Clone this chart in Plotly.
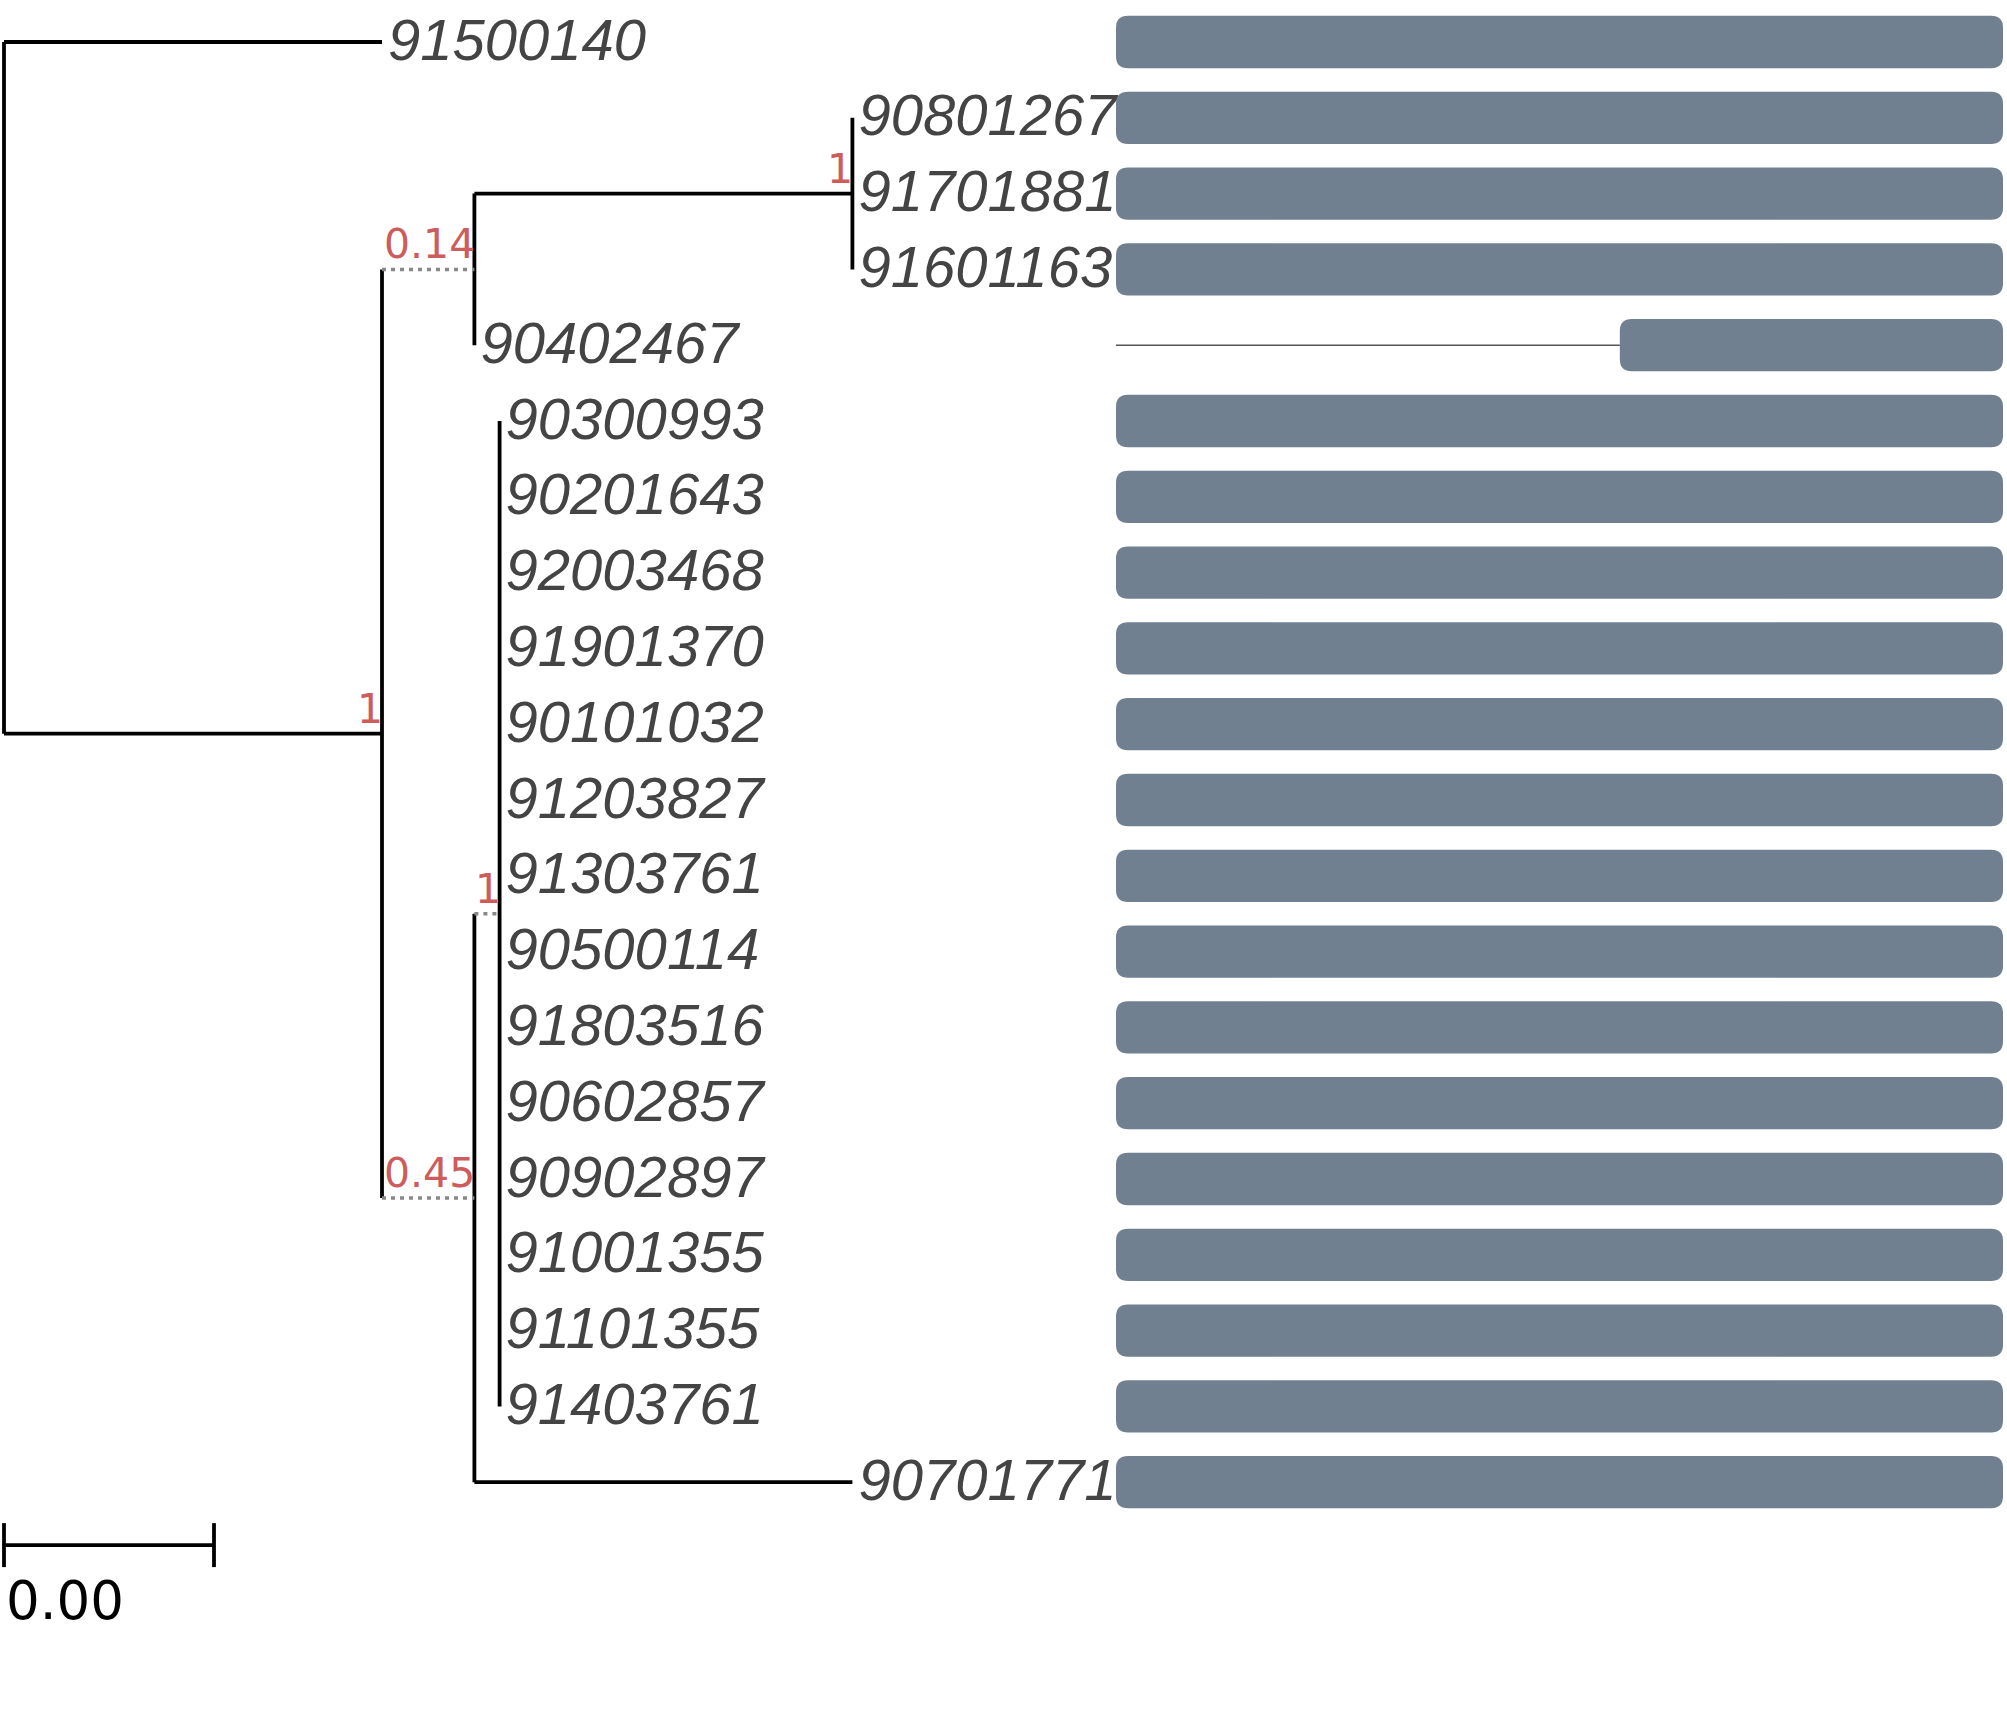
import plotly.graph_objects as go

# leaves, top to bottom
leaf_names = ["91500140", "90801267", "91701881", "91601163", "90402467",
              "90300993", "90201643", "92003468", "91901370", "90101032",
              "91203827", "91303761", "90500114", "91803516", "90602857",
              "90902897", "91001355", "91101355", "91403761", "90701771"]
leaf_parent = ["root", "C", "C", "C", "B"] + ["E"] * 14 + ["D"]
leaf_branch = [0.0018, 0, 0, 0, 0] + [0] * 14 + [0.0018]

# internal nodes
node_names = ["root", "A", "B", "C", "D", "E"]
node_parent = [None, "root", "A", "B", "A", "D"]
node_branch = [0, 0.0018, 0.00044, 0.0018, 0.00044, 0.00012]
node_support = [None, "1", "0.14", "1", "0.45", "1"]
node_dotted = [False, False, True, False, True, True]

# alignment coverage per leaf
aln_length = 1500
aln_start = [0, 0, 0, 0, 852] + [0] * 14 + [0]
aln_end = [1500] * 20

scale_bar_len = 0.001

# ---- tree layout ----
children = {n: [] for n in node_names}
for i, p in enumerate(leaf_parent):
    children[p].append(("leaf", i))
for n, p in zip(node_names, node_parent):
    if p is not None:
        children[p].append(("node", n))

node_x = {}
node_y = {}
leaf_x = [0.0] * len(leaf_names)


def place(name, x):
    node_x[name] = x
    ys = []
    for kind, c in children[name]:
        if kind == "leaf":
            leaf_x[c] = x + leaf_branch[c]
            ys.append(c)
        else:
            bl = node_branch[node_names.index(c)]
            ys.append(place(c, x + bl))
    node_y[name] = (min(ys) + max(ys)) / 2
    return node_y[name]


place("root", 0.0)

solid_x, solid_y, dot_x, dot_y = [], [], [], []
for name in node_names:
    ys = []
    for kind, c in children[name]:
        if kind == "leaf":
            cx, cy, dotted = leaf_x[c], c, False
        else:
            cx, cy = node_x[c], node_y[c]
            dotted = node_dotted[node_names.index(c)]
        ys.append(cy)
        if cx > node_x[name]:
            if dotted:
                dot_x += [node_x[name], cx, None]
                dot_y += [cy, cy, None]
            else:
                solid_x += [node_x[name], cx, None]
                solid_y += [cy, cy, None]
    solid_x += [node_x[name], node_x[name], None]
    solid_y += [min(ys), max(ys), None]

# scale bar
sb_y = len(leaf_names) - 1 + 0.83
solid_x += [0, scale_bar_len, None, 0, 0, None, scale_bar_len, scale_bar_len, None]
solid_y += [sb_y, sb_y, None, sb_y - 0.29, sb_y + 0.29, None, sb_y - 0.29, sb_y + 0.29, None]

W, H = 2007, 1734
px_per_unit = 210 / scale_bar_len
x0_px = 4
row_px = 75.8
row0_px = 42
bar_l, bar_r = 1116, 2003

fig = go.Figure()
fig.add_trace(go.Scatter(x=solid_x, y=solid_y, mode="lines",
                         line=dict(color="black", width=3.8), hoverinfo="skip"))
fig.add_trace(go.Scatter(x=dot_x, y=dot_y, mode="lines",
                         line=dict(color="#888888", width=3.5, dash="4px,5px"),
                         hoverinfo="skip"))
fig.add_trace(go.Scatter(x=[x + 6 / px_per_unit for x in leaf_x],
                         y=[i + 0.04 for i in range(len(leaf_names))],
                         mode="text", text=leaf_names, textposition="middle right",
                         textfont=dict(family="Liberation Sans", size=58,
                                       color="#444444", style="italic"),
                         hoverinfo="skip"))

# thin gap lines and rounded bars
bar_h = 0.69
rx = 12 * aln_length / (bar_r - bar_l)
ry = 12 / row_px
gap_x, gap_y = [], []
for i in range(len(leaf_names)):
    s, e = aln_start[i], aln_end[i]
    if s > 0:
        gap_x += [0, s, None]
        gap_y += [i, i, None]
    y0, y1 = i - bar_h / 2, i + bar_h / 2
    path = (f"M{s + rx},{y0} L{e - rx},{y0} Q{e},{y0} {e},{y0 + ry} "
            f"L{e},{y1 - ry} Q{e},{y1} {e - rx},{y1} L{s + rx},{y1} "
            f"Q{s},{y1} {s},{y1 - ry} L{s},{y0 + ry} Q{s},{y0} {s + rx},{y0} Z")
    fig.add_shape(type="path", path=path, xref="x2", yref="y",
                  fillcolor="#708090", line=dict(width=0))
fig.add_trace(go.Scatter(x=gap_x, y=gap_y, xaxis="x2", mode="lines",
                         line=dict(color="#555555", width=1.5), hoverinfo="skip"))

for name, sup in zip(node_names, node_support):
    if sup is None:
        continue
    fig.add_annotation(x=node_x[name], y=node_y[name], text=sup, showarrow=False,
                       xanchor="right", yanchor="bottom", yshift=-1, xshift=3,
                       font=dict(family="DejaVu Sans", size=41, color="#cd5c5c"))

fig.add_annotation(x=0, y=sb_y + 0.3, text=f"{scale_bar_len:.2f}", showarrow=False,
                   xanchor="left", yanchor="top",
                   font=dict(family="DejaVu Sans", size=53, color="black"))

fig.update_layout(
    width=W, height=H, margin=dict(l=0, r=0, t=0, b=0),
    paper_bgcolor="white", plot_bgcolor="rgba(0,0,0,0)", showlegend=False,
    xaxis=dict(domain=[0, 1], range=[-x0_px / px_per_unit, (W - x0_px) / px_per_unit],
               visible=False),
    xaxis2=dict(domain=[bar_l / W, bar_r / W], range=[0, aln_length], anchor="y",
                visible=False),
    yaxis=dict(range=[(H - row0_px) / row_px, -row0_px / row_px], visible=False),
)

# drop the default page margin so the figure fills the window
fig.write_html("out.html", config={"displayModeBar": False}, post_script=(
    "document.body.style.margin='0';"
    "document.body.style.overflow='hidden';"
    "document.documentElement.style.overflow='hidden';"))
